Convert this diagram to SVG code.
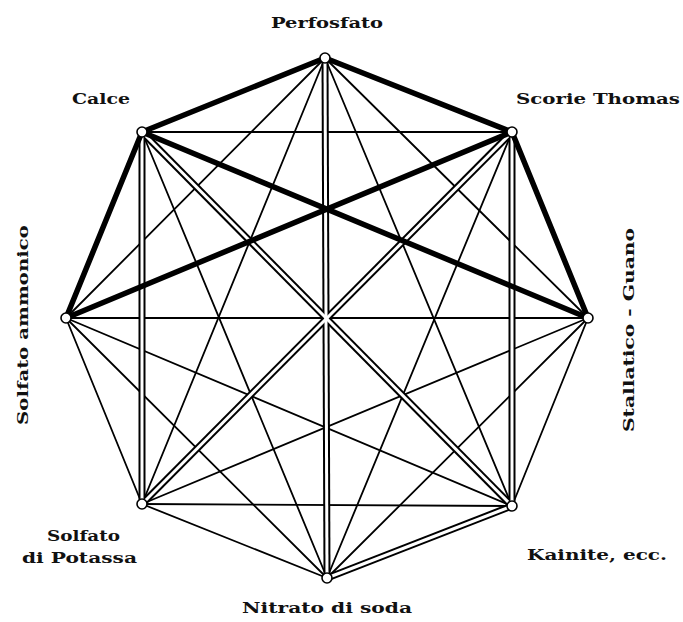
<svg xmlns="http://www.w3.org/2000/svg" width="683" height="622" viewBox="0 0 683 622">
<style>
.thin{stroke:#000;stroke-width:1.8;fill:none;stroke-linecap:round}
.dblo{stroke:#000;stroke-width:7;fill:none}
.dbli{stroke:#fff;stroke-width:3;fill:none}
.thick{stroke:#000;stroke-width:5.5;fill:none;stroke-linecap:round}
.node{fill:#fff;stroke:#000;stroke-width:1.6}
text{font-family:"DejaVu Serif","Liberation Serif",serif;font-weight:bold;font-size:15px;fill:#111}
</style>
<rect width="683" height="622" fill="#fff"/>
<g id="connectors">
<g id="thin-lines">
<line class="thin" x1="325" y1="58" x2="588" y2="318"/>
<line class="thin" x1="325" y1="58" x2="512" y2="506"/>
<line class="thin" x1="325" y1="58" x2="142" y2="504"/>
<line class="thin" x1="325" y1="58" x2="66" y2="318"/>
<line class="thin" x1="512" y1="132" x2="327" y2="578"/>
<line class="thin" x1="512" y1="132" x2="142" y2="132"/>
<line class="thin" x1="588" y1="318" x2="512" y2="506"/>
<line class="thin" x1="588" y1="318" x2="327" y2="578"/>
<line class="thin" x1="588" y1="318" x2="142" y2="504"/>
<line class="thin" x1="588" y1="318" x2="66" y2="318"/>
<line class="thin" x1="512" y1="506" x2="142" y2="504"/>
<line class="thin" x1="512" y1="506" x2="66" y2="318"/>
<line class="thin" x1="327" y1="578" x2="142" y2="504"/>
<line class="thin" x1="327" y1="578" x2="66" y2="318"/>
<line class="thin" x1="327" y1="578" x2="142" y2="132"/>
<line class="thin" x1="142" y1="504" x2="66" y2="318"/>
</g>
<g id="double-lines">
<line class="dblo" x1="325" y1="58" x2="327" y2="578"/>
<line class="dblo" x1="512" y1="132" x2="512" y2="506"/>
<line class="dblo" x1="512" y1="132" x2="142" y2="504"/>
<line class="dblo" x1="512" y1="506" x2="327" y2="578"/>
<line class="dblo" x1="512" y1="506" x2="142" y2="132"/>
<line class="dblo" x1="142" y1="504" x2="142" y2="132"/>
<line class="dbli" x1="325" y1="58" x2="327" y2="578"/>
<line class="dbli" x1="512" y1="132" x2="512" y2="506"/>
<line class="dbli" x1="512" y1="132" x2="142" y2="504"/>
<line class="dbli" x1="512" y1="506" x2="327" y2="578"/>
<line class="dbli" x1="512" y1="506" x2="142" y2="132"/>
<line class="dbli" x1="142" y1="504" x2="142" y2="132"/>
</g>
<g id="thick-lines">
<line class="thick" x1="325" y1="58" x2="512" y2="132"/>
<line class="thick" x1="325" y1="58" x2="142" y2="132"/>
<line class="thick" x1="512" y1="132" x2="588" y2="318"/>
<line class="thick" x1="512" y1="132" x2="66" y2="318"/>
<line class="thick" x1="588" y1="318" x2="142" y2="132"/>
<line class="thick" x1="66" y1="318" x2="142" y2="132"/>
</g>
</g>
<g id="node-perfosfato"><circle class="node" cx="325" cy="58" r="5"/><text x="327" y="28" text-anchor="middle" textLength="112" lengthAdjust="spacingAndGlyphs">Perfosfato</text></g>
<g id="node-scorie"><circle class="node" cx="512" cy="132" r="5"/><text x="516" y="104" textLength="164" lengthAdjust="spacingAndGlyphs">Scorie  Thomas</text></g>
<g id="node-stallatico"><circle class="node" cx="588" cy="318" r="5"/><text transform="translate(634,330) rotate(-90)" text-anchor="middle" textLength="204" lengthAdjust="spacingAndGlyphs">Stallatico  -  Guano</text></g>
<g id="node-kainite"><circle class="node" cx="512" cy="506" r="5"/><text x="527" y="560" textLength="140" lengthAdjust="spacingAndGlyphs">Kainite,  ecc.</text></g>
<g id="node-nitrato"><circle class="node" cx="327" cy="578" r="5"/><text x="327" y="613" text-anchor="middle" textLength="170" lengthAdjust="spacingAndGlyphs">Nitrato  di  soda</text></g>
<g id="node-potassa"><circle class="node" cx="142" cy="504" r="5"/><text x="47" y="541" textLength="73" lengthAdjust="spacingAndGlyphs">Solfato</text><text x="22" y="563" textLength="115" lengthAdjust="spacingAndGlyphs">di  Potassa</text></g>
<g id="node-ammonico"><circle class="node" cx="66" cy="318" r="5"/><text transform="translate(28,325) rotate(-90)" text-anchor="middle" textLength="200" lengthAdjust="spacingAndGlyphs">Solfato  ammonico</text></g>
<g id="node-calce"><circle class="node" cx="142" cy="132" r="5"/><text x="72" y="104" textLength="58" lengthAdjust="spacingAndGlyphs">Calce</text></g>
</svg>
